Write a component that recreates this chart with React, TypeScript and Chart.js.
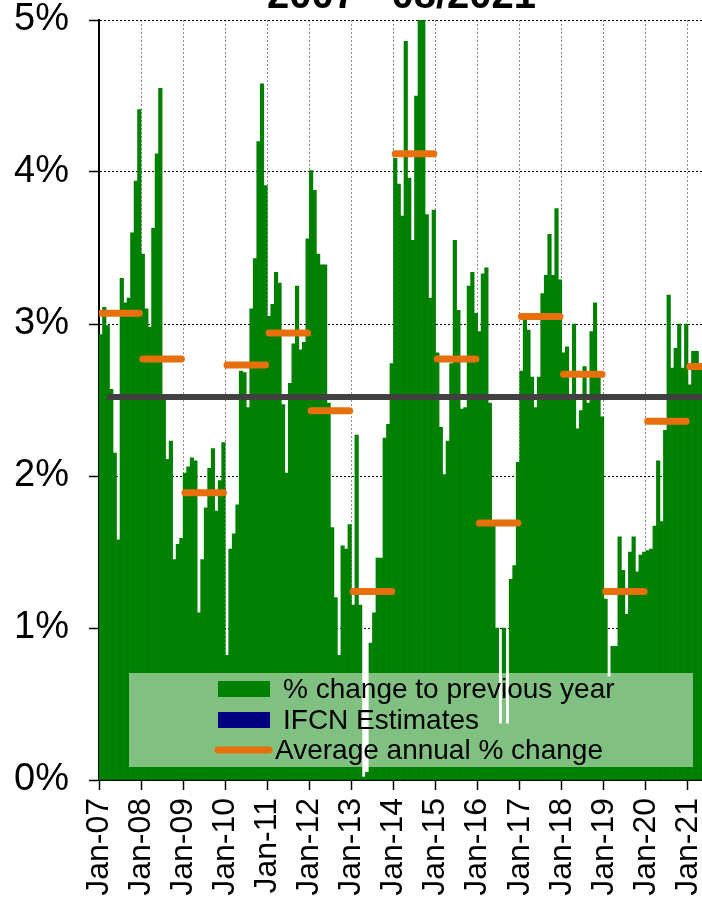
import React, { useEffect, useRef } from 'react';
import { Chart, registerables } from 'chart.js';

Chart.register(...registerables);

const FONT = "'Liberation Sans', Arial, sans-serif";

const chartTitle = '2007 - 08/2021';

const yearLabels = [
  'Jan-07', 'Jan-08', 'Jan-09', 'Jan-10', 'Jan-11', 'Jan-12', 'Jan-13', 'Jan-14',
  'Jan-15', 'Jan-16', 'Jan-17', 'Jan-18', 'Jan-19', 'Jan-20', 'Jan-21',
];

const yTickLabels = ['0%', '1%', '2%', '3%', '4%', '5%'];

// monthly % change to previous year, Jan-07 .. Apr-21
const monthlyChange = [
  // 2007
  2.93, 3.11, 2.99, 2.57, 2.15, 1.58, 3.30, 3.14, 3.17, 3.60, 3.94, 4.41,
  // 2008
  3.46, 3.10, 2.98, 3.63, 4.12, 4.55, 2.52, 2.11, 2.23, 1.45, 1.55, 1.59,
  // 2009
  2.02, 2.06, 2.12, 2.10, 1.10, 1.45, 1.79, 2.05, 2.18, 1.77, 1.97, 2.22,
  // 2010
  0.82, 1.52, 1.62, 1.81, 2.69, 2.68, 2.45, 3.10, 3.43, 4.20, 4.58, 3.91,
  // 2011
  3.05, 3.13, 3.34, 3.27, 2.47, 2.02, 2.61, 2.87, 3.25, 2.83, 2.88, 3.56,
  // 2012
  4.01, 3.88, 3.46, 3.39, 3.39, 2.48, 1.66, 1.20, 0.82, 1.54, 1.52, 1.68,
  // 2013
  1.15, 2.27, 1.15, 0.02, 0.05, 0.90, 1.10, 1.46, 1.46, 2.25, 2.34, 2.74,
  // 2014
  4.09, 3.92, 3.71, 4.86, 3.96, 3.55, 4.50, 5.00, 5.00, 3.72, 3.17, 3.75,
  // 2015
  2.81, 2.32, 2.01, 2.23, 2.74, 3.55, 3.09, 2.44, 2.45, 3.25, 3.34, 3.07,
  // 2016
  2.95, 3.33, 3.37, 2.48, 1.69, 1.00, 0.37, 1.00, 0.37, 1.32, 1.41, 2.09,
  // 2017
  2.69, 3.04, 2.96, 2.65, 2.45, 2.65, 3.20, 3.32, 3.59, 3.32, 3.76, 3.29,
  // 2018
  2.81, 2.85, 2.52, 3.00, 2.31, 2.43, 2.72, 2.48, 2.95, 3.14, 2.68, 2.39,
  // 2019
  1.19, 0.68, 0.88, 0.88, 1.60, 1.38, 1.09, 1.50, 1.60, 1.37, 1.48, 1.50,
  // 2020
  1.51, 1.52, 1.67, 2.10, 1.70, 2.30, 3.19, 2.71, 2.84, 3.00, 2.71, 3.00,
  // 2021
  2.60, 2.82, 2.82, 2.70,
];

const ifcnEstimates: number[] = [];

// average annual % change, 2007 .. 2021
const annualAverage = [
  3.07, 2.77, 1.89, 2.73, 2.94, 2.43, 1.24, 4.12, 2.77, 1.69, 3.05, 2.67, 1.24, 2.36, 2.72,
];

const longTermAverage = 2.52;
const longTermStartMonth = 2.3;
const monthsShown = 172;

const seriesLabels = ['% change to previous year', 'IFCN Estimates', 'Average annual % change'];

const legendPlugin = {
  id: 'boxLegend',
  afterDatasetsDraw(chart: any) {
    const { ctx, chartArea } = chart;
    const bx = chartArea.left + 30;
    const by = chartArea.bottom - 107;
    const bw = 564;
    const bh = 94;
    ctx.save();
    ctx.fillStyle = 'rgba(255,255,255,0.5)';
    ctx.fillRect(bx, by, bw, bh);
    const ds = chart.data.datasets;
    const rows = [
      { ds: ds[0], kind: 'rect', cy: by + 16, tx: bx + 154 },
      { ds: ds[1], kind: 'rect', cy: by + 47, tx: bx + 154 },
      { ds: ds[3], kind: 'line', cy: by + 77, tx: bx + 146 },
    ];
    ctx.font = `28px ${FONT}`;
    ctx.textBaseline = 'middle';
    ctx.textAlign = 'left';
    for (const r of rows) {
      if (r.kind === 'rect') {
        ctx.fillStyle = r.ds.backgroundColor;
        ctx.fillRect(bx + 89, r.cy - 8, 52, 16);
      } else {
        ctx.strokeStyle = r.ds.borderColor;
        ctx.lineWidth = 7;
        ctx.lineCap = 'round';
        ctx.beginPath();
        ctx.moveTo(bx + 89, r.cy);
        ctx.lineTo(bx + 140, r.cy);
        ctx.stroke();
      }
      ctx.fillStyle = '#000';
      ctx.fillText(r.ds.label, r.tx, r.cy + 1);
    }
    ctx.restore();
  },
};

const titlePlugin = {
  id: 'clippedTitle',
  afterDraw(chart: any) {
    const { ctx, chartArea } = chart;
    ctx.save();
    ctx.font = `bold 40px ${FONT}`;
    ctx.fillStyle = '#000';
    ctx.textAlign = 'center';
    ctx.textBaseline = 'alphabetic';
    ctx.fillText(chartTitle, (chartArea.left + chartArea.right) / 2 + 1, 8);
    ctx.restore();
  },
};

export default function App() {
  const ref = useRef<HTMLCanvasElement>(null);

  useEffect(() => {
    const barData = monthlyChange.map((v, i) => ({ x: i + 0.5, y: v }));
    const avgData: any[] = [];
    annualAverage.forEach((v, i) => {
      avgData.push({ x: i * 12 + 0.5, y: v });
      avgData.push({ x: i * 12 + 11.5, y: v });
      avgData.push({ x: i * 12 + 12, y: null });
    });

    const chart = new Chart(ref.current as HTMLCanvasElement, {
      type: 'bar',
      data: {
        datasets: [
          {
            type: 'bar',
            label: seriesLabels[0],
            data: barData as any,
            backgroundColor: '#008000',
            borderWidth: 0,
            barPercentage: 1,
            categoryPercentage: 1,
            grouped: false,
            order: 4,
          },
          {
            type: 'bar',
            label: seriesLabels[1],
            data: ifcnEstimates as any,
            backgroundColor: '#000080',
            borderWidth: 0,
            barPercentage: 1,
            categoryPercentage: 1,
            grouped: false,
            order: 3,
          },
          {
            type: 'line',
            label: 'Long-term average',
            data: [
              { x: longTermStartMonth, y: longTermAverage },
              { x: monthsShown + 2, y: longTermAverage },
            ] as any,
            borderColor: '#404040',
            borderWidth: 6,
            pointRadius: 0,
            order: 2,
          },
          {
            type: 'line',
            label: seriesLabels[2],
            data: avgData,
            borderColor: '#E8700C',
            borderWidth: 7,
            borderCapStyle: 'round',
            pointRadius: 0,
            spanGaps: false,
            order: 1,
          },
        ],
      },
      options: {
        responsive: false,
        animation: false,
        layout: { padding: { top: 20, right: 0, bottom: 0, left: 0 } },
        plugins: {
          legend: { display: false },
          tooltip: { enabled: false },
          title: { display: false },
        },
        scales: {
          x: {
            type: 'linear',
            min: 0,
            max: monthsShown,
            offset: false,
            afterBuildTicks: (axis: any) => {
              axis.ticks = yearLabels.map((_, i) => ({ value: i * 12 }));
            },
            ticks: {
              callback: (v: any) => yearLabels[Math.round(Number(v) / 12)] ?? '',
              minRotation: 90,
              maxRotation: 90,
              autoSkip: false,
              color: '#000',
              padding: 8,
              font: { family: FONT, size: 32 },
            },
            grid: {
              offset: false,
              color: '#8a8a8a',
              lineWidth: 1,
              tickLength: 10,
              tickColor: '#000',
              tickWidth: 1.5,
              tickBorderDash: [],
            },
            border: { display: true, color: '#000', width: 2, dash: [2, 2] },
            afterFit: (s: any) => {
              s.height = 117;
              s.paddingLeft = 0;
              s.paddingRight = 0;
            },
          } as any,
          y: {
            type: 'linear',
            min: 0,
            max: 5,
            ticks: {
              stepSize: 1,
              callback: (v: any) => yTickLabels[Math.round(Number(v))] ?? '',
              color: '#000',
              padding: 20,
              font: { family: FONT, size: 38 },
            },
            grid: {
              color: '#000',
              lineWidth: 1,
              tickLength: 10,
              tickColor: '#000',
              tickWidth: 1.5,
              tickBorderDash: [],
            },
            border: { display: true, color: '#000', width: 2, dash: [2, 2] },
            afterFit: (s: any) => {
              s.width = 99;
              s.paddingTop = 0;
              s.paddingBottom = 0;
            },
          } as any,
        },
      },
      plugins: [legendPlugin, titlePlugin],
    } as any);

    return () => chart.destroy();
  }, []);

  return (
    <div
      style={{
        position: 'fixed',
        left: 0,
        top: 0,
        width: 702,
        height: 897,
        overflow: 'hidden',
        background: '#fff',
      }}
    >
      <canvas ref={ref} width={702} height={897} style={{ display: 'block', width: 702, height: 897 }} />
    </div>
  );
}
